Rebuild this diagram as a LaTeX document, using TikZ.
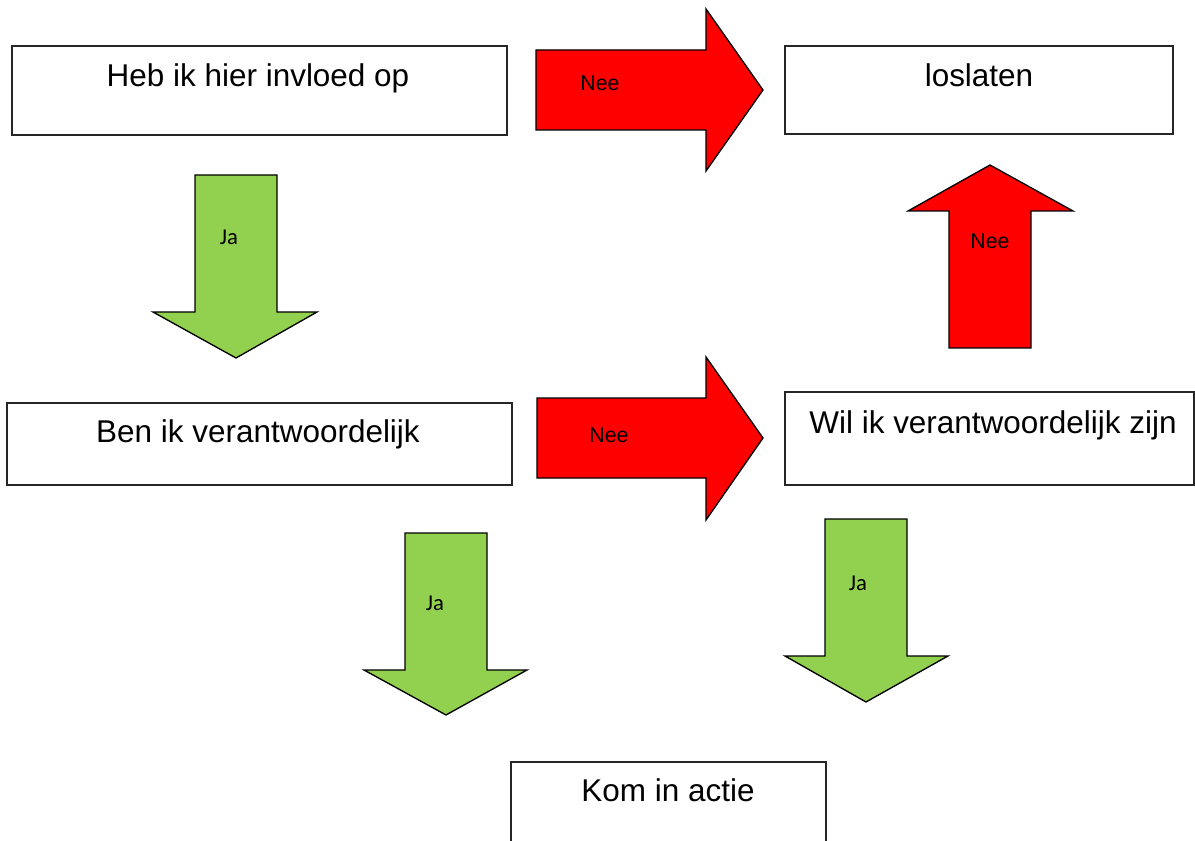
\documentclass[tikz,border=0pt]{standalone}
\usepackage{fontspec}
\setmainfont{Liberation Sans}
\newfontfamily\calib{Carlito}
\definecolor{arrred}{HTML}{FF0000}
\definecolor{arrgreen}{HTML}{92D050}
\tikzset{
  box/.style={draw=black!85, line width=1.1pt, rectangle, inner sep=0pt, fill=white},
  boxtext/.style={anchor=base, inner sep=0pt, font=\fontsize{23.6}{28}\selectfont},
  redarrow/.style={fill=arrred, draw=black, line width=1pt, line join=miter},
  greenarrow/.style={fill=arrgreen, draw=black, line width=1pt, line join=miter},
  neelabel/.style={anchor=base, inner sep=0pt, font=\fontsize{16}{19}\selectfont},
  jalabel/.style={anchor=base, inner sep=0pt, font=\calib\fontsize{17}{20}\selectfont}
}
\begin{document}
\begin{tikzpicture}[x=0.75pt, y=-0.75pt]
\useasboundingbox (0,0) rectangle (1195,841);
% boxes
\node[box, minimum width=371.25pt, minimum height=66.75pt] (heb) at (259.5,90.5) {};
\node[box, minimum width=291pt, minimum height=66pt] (los) at (979,90) {};
\node[box, minimum width=378.75pt, minimum height=61.5pt] (ben) at (259.5,444) {};
\node[box, minimum width=306.75pt, minimum height=69.75pt] (wil) at (989.5,438.5) {};
\node[box, minimum width=236.25pt, minimum height=62.25pt] (kom) at (668.5,803.5) {};
% box texts
\node[boxtext] (hebt) at (258,87) {Heb ik hier invloed op};
\node[boxtext] (lost) at (979,87) {loslaten};
\node[boxtext] (bent) at (258,442) {Ben ik verantwoordelijk};
\node[boxtext] (wilt) at (993,433) {Wil ik verantwoordelijk zijn};
\node[boxtext] (komt) at (668,801) {Kom in actie};
% block arrows
\draw[redarrow] (536,50) -- (706,50) -- (706,9) -- (763,90) -- (706,171) -- (706,130) -- (536,130) -- cycle;
\draw[redarrow] (537,398) -- (706,398) -- (706,357) -- (763,438) -- (706,520) -- (706,478) -- (537,478) -- cycle;
\draw[redarrow] (949,348) -- (949,211) -- (908,211) -- (990,165) -- (1073,211) -- (1031,211) -- (1031,348) -- cycle;
\draw[greenarrow] (195,175) -- (277,175) -- (277,312) -- (317,312) -- (236,358) -- (153,312) -- (195,312) -- cycle;
\draw[greenarrow] (405,533) -- (487,533) -- (487,670) -- (527,670) -- (446,715) -- (364,670) -- (405,670) -- cycle;
\draw[greenarrow] (825,519) -- (907,519) -- (907,656) -- (948,656) -- (866,702) -- (785,656) -- (825,656) -- cycle;
% arrow labels
\node[neelabel] (n1) at (600,91) {Nee};
\node[neelabel] (n2) at (990,249) {Nee};
\node[neelabel] (n3) at (609,442) {Nee};
\node[jalabel] (j1) at (229,245) {Ja};
\node[jalabel] (j2) at (435,610) {Ja};
\node[jalabel] (j3) at (858,590) {Ja};
\end{tikzpicture}
\end{document}
